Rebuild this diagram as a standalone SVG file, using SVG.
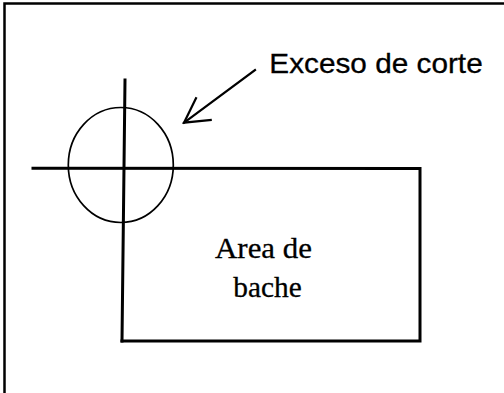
<svg xmlns="http://www.w3.org/2000/svg" width="504" height="393" viewBox="0 0 504 393">
<style>
.ln{fill:none;stroke:#000;stroke-linecap:square;stroke-linejoin:miter}
.sans{font-family:"Liberation Sans",Arial,sans-serif;fill:#000;stroke:#000;stroke-width:0.3}
.serif{font-family:"Liberation Serif","Times New Roman",serif;fill:#000;stroke:#000;stroke-width:0.3}
</style>
<rect x="0" y="0" width="504" height="393" fill="#fff"/>
<g id="frame">
<path class="ln" d="M4.5,393 L4.5,3.5 L504,3.5" stroke-width="2.5"/>
</g>
<g id="cut-circle">
<ellipse class="ln" cx="120.8" cy="165" rx="52.5" ry="57.5" stroke-width="1.7"/>
</g>
<g id="bache-area">
<path class="ln" d="M33,168.2 L420,168.5 L420,341 L122,341" stroke-width="3"/>
<path class="ln" d="M125,80 L122,341" stroke-width="3"/>
<text class="serif" x="215" y="258.3" font-size="30" textLength="97" lengthAdjust="spacingAndGlyphs">Area de</text>
<text class="serif" x="233.3" y="296.7" font-size="30" textLength="68.4" lengthAdjust="spacingAndGlyphs">bache</text>
</g>
<g id="label-exceso">
<text class="sans" x="269.3" y="73.3" font-size="28" textLength="213.4" lengthAdjust="spacingAndGlyphs">Exceso de corte</text>
</g>
<g id="connectors">
<path class="ln" d="M255,70 L184,122.7" stroke-width="2.2"/>
<path class="ln" d="M196,98.3 L184,122.7 L210.7,120" stroke-width="2.2"/>
</g>
</svg>
